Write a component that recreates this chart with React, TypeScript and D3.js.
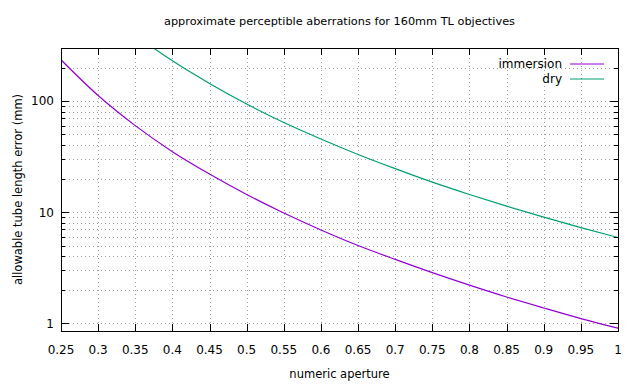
import * as d3 from 'd3';

// values
const apertures = [0.25, 0.3, 0.35, 0.4, 0.45, 0.5, 0.55, 0.6, 0.65, 0.7, 0.75, 0.8, 0.85, 0.9, 0.95, 1.0];
const immersion = [235, 112, 60, 35, 22, 14.4, 9.8, 6.9, 5.0, 3.75, 2.85, 2.2, 1.72, 1.37, 1.1, 0.9];
const dry = [1500, 730, 395, 230, 144, 94, 64, 45.5, 33, 24.6, 18.6, 14.4, 11.3, 9.0, 7.25, 5.9];
const xTicks = [0.25, 0.3, 0.35, 0.4, 0.45, 0.5, 0.55, 0.6, 0.65, 0.7, 0.75, 0.8, 0.85, 0.9, 0.95, 1];
const yTicks = [1, 10, 100];
const yMinor = [2, 3, 4, 5, 6, 7, 8, 9, 20, 30, 40, 50, 60, 70, 80, 90, 200, 300];

const series = [
  { name: 'immersion', values: immersion, color: '#9400d3' },
  { name: 'dry', values: dry, color: '#009e73' },
];

const W = 640, H = 384;
const m = { left: 61, right: 22, top: 48, bottom: 53 };
const font = "Tahoma, 'DejaVu Sans', sans-serif";

export default function App() {
  const x = d3.scaleLinear().domain([0.25, 1]).range([m.left, W - m.right]);
  const y = d3.scaleLog().domain([0.85, 300]).range([H - m.bottom, m.top]);
  const x0 = m.left, x1 = W - m.right, y0 = H - m.bottom, y1 = m.top;

  const line = d3.line<number>()
    .x((_, i) => x(apertures[i]))
    .y((d) => y(d))
    .curve(d3.curveMonotoneX);

  const gridStyle = { stroke: '#a0a0a0', strokeWidth: 1, strokeDasharray: '1,3' };

  return (
    <svg width={W} height={H} style={{ position: 'absolute', left: 0, top: 0, background: '#fff' }} fontFamily={font}>
      <defs>
        <clipPath id="plot">
          <rect x={x0} y={y1} width={x1 - x0} height={y0 - y1} />
        </clipPath>
      </defs>

      {/* grid */}
      {xTicks.slice(1, -1).map((t) => (
        <line key={'gx' + t} x1={Math.round(x(t)) + 0.5} x2={Math.round(x(t)) + 0.5} y1={y0} y2={y1} style={gridStyle} />
      ))}
      {[...yTicks, ...yMinor].map((t) => (
        <line key={'gy' + t} x1={x0} x2={x1} y1={Math.round(y(t)) + 0.5} y2={Math.round(y(t)) + 0.5} style={gridStyle} />
      ))}

      {/* curves */}
      <g clipPath="url(#plot)">
        {series.map((s) => (
          <path key={s.name} d={line(s.values) || ''} fill="none" stroke={s.color} strokeWidth={1.2} />
        ))}
      </g>

      {/* ticks */}
      <g stroke="#000" strokeWidth={1}>
        {xTicks.map((t) => {
          const px = Math.round(x(t)) + 0.5;
          return (
            <g key={'tx' + t}>
              <line x1={px} x2={px} y1={y0} y2={y0 - 7} />
              <line x1={px} x2={px} y1={y1} y2={y1 + 7} />
            </g>
          );
        })}
        {yTicks.map((t) => {
          const py = Math.round(y(t)) + 0.5;
          return (
            <g key={'ty' + t}>
              <line x1={x0} x2={x0 + 8} y1={py} y2={py} />
              <line x1={x1} x2={x1 - 8} y1={py} y2={py} />
            </g>
          );
        })}
        {yMinor.map((t) => {
          const py = Math.round(y(t)) + 0.5;
          return (
            <g key={'tm' + t}>
              <line x1={x0} x2={x0 + 4} y1={py} y2={py} />
              <line x1={x1} x2={x1 - 4} y1={py} y2={py} />
            </g>
          );
        })}
      </g>

      {/* frame */}
      <rect x={x0 + 0.5} y={y1 + 0.5} width={x1 - x0} height={y0 - y1} fill="none" stroke="#000" strokeWidth={1} />

      {/* tick labels */}
      <g fontSize={12} fill="#000">
        {xTicks.map((t) => (
          <text key={'lx' + t} x={x(t)} y={y0 + 23} textAnchor="middle">{d3.format('~g')(t)}</text>
        ))}
        {yTicks.map((t) => (
          <text key={'ly' + t} x={x0 - 7} y={y(t) + 4.5} textAnchor="end">{t}</text>
        ))}
      </g>

      {/* titles */}
      <text x={(x0 + x1) / 2} y={25} textAnchor="middle" fontSize={11.3}>approximate perceptible aberrations for 160mm TL objectives</text>
      <text x={(x0 + x1) / 2} y={378} textAnchor="middle" fontSize={11.5}>numeric aperture</text>
      <text transform={`translate(22,${(y0 + y1) / 2}) rotate(-90)`} textAnchor="middle" fontSize={11.5}>allowable tube length error (mm)</text>

      {/* legend */}
      {series.map((s, i) => (
        <g key={'lg' + s.name}>
          <text x={562} y={68 + i * 15} textAnchor="end" fontSize={12}>{s.name}</text>
          <line x1={570} x2={604} y1={64 + i * 15} y2={64 + i * 15} stroke={s.color} strokeWidth={1.2} />
        </g>
      ))}
    </svg>
  );
}
